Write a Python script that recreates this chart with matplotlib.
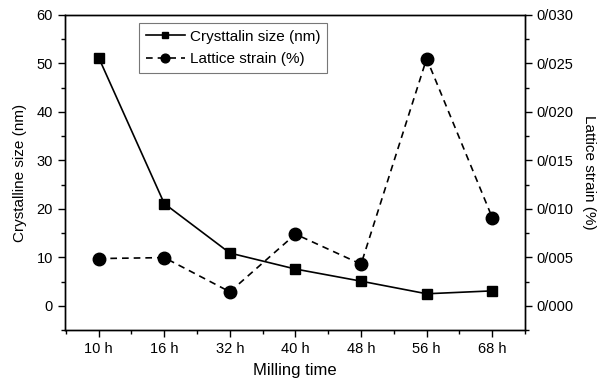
import matplotlib
matplotlib.use("Agg")
import matplotlib.pyplot as plt
from matplotlib.ticker import MultipleLocator, FuncFormatter

plt.rcParams['font.family'] = ['Liberation Sans', 'DejaVu Sans']

categories = ["10 h", "16 h", "32 h", "40 h", "48 h", "56 h", "68 h"]
crystallite_size = [51.2, 21.1, 10.9, 7.6, 5.1, 2.5, 3.1]
lattice_strain = [0.00488, 0.00498, 0.00145, 0.0074, 0.0043, 0.0255, 0.0091]

fig = plt.figure(figsize=(5.98, 3.83), dpi=100)
ax = fig.add_axes([0.108, 0.138, 0.770, 0.823])
ax2 = ax.twinx()

x = list(range(len(categories)))
l1, = ax.plot(x, crystallite_size, '-', color='black', lw=1.2, marker='s', ms=7,
              label='Crysttalin size (nm)')
l2, = ax2.plot(x, lattice_strain, '--', color='black', lw=1.2, marker='o', ms=9,
               dashes=(4, 3), label='Lattice strain (%)')

ax.set_xlim(-0.52, 6.5)
ax.set_ylim(-5, 60)
ax2.set_ylim(-0.0025, 0.030)

ax.set_xticks(x)
ax.set_xticklabels(categories)
ax.xaxis.set_minor_locator(MultipleLocator(0.5))
ax.yaxis.set_major_locator(MultipleLocator(10))
ax.yaxis.set_minor_locator(MultipleLocator(5))
ax2.yaxis.set_major_locator(MultipleLocator(0.005))
ax2.yaxis.set_minor_locator(MultipleLocator(0.0025))
ax2.yaxis.set_major_formatter(FuncFormatter(lambda v, p: f"{v:.3f}".replace('.', '/')))

for a in (ax, ax2):
    a.tick_params(which='major', direction='out', length=5, width=1, labelsize=10.5, colors='black')
    a.tick_params(which='minor', direction='out', length=3, width=1)
    for s in a.spines.values():
        s.set_linewidth(1.0)
ax.tick_params(axis='y', which='both', right=False)
ax2.tick_params(axis='y', which='both', left=False)

ax.set_xlabel('Milling time', fontsize=12, labelpad=5)
ax.set_ylabel('Crystalline size (nm)', fontsize=11, labelpad=7)
ax2.set_ylabel('Lattice strain (%)', fontsize=11, rotation=270, labelpad=16)

leg = ax.legend(handles=[l1, l2], loc='upper left', bbox_to_anchor=(0.161, 0.975),
                borderaxespad=0, fontsize=11, frameon=True, fancybox=False,
                edgecolor='#555555', handlelength=2.6, borderpad=0.45,
                labelspacing=0.55, handletextpad=0.3, markerscale=0.7)
leg.get_frame().set_linewidth(0.8)

fig.savefig('out.png', dpi=100)
